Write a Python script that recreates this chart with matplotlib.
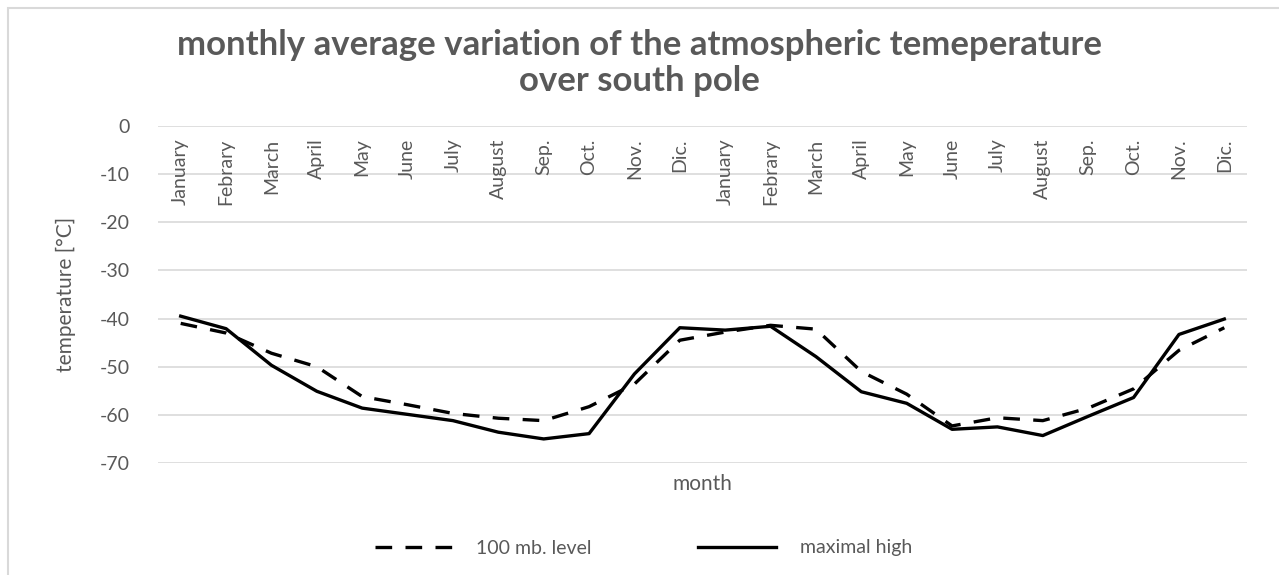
import matplotlib
matplotlib.use("Agg")
import matplotlib.pyplot as plt
from matplotlib.patches import Rectangle

months = ["January", "Febrary", "March", "April", "May", "June", "July",
          "August", "Sep.", "Oct.", "Nov.", "Dic."]
labels = months + months

# 100 mb. level (dashed)
level_100mb = [-41.0, -43.0, -47.2, -50.0, -56.2, -57.9, -59.7, -60.7, -61.2, -58.3, -53.6, -44.5,
               -42.8, -41.4, -42.2, -51.0, -55.7, -62.3, -60.6, -61.2, -58.6, -54.6, -46.6, -41.9]
# maximal high (solid)
maximal_high = [-39.5, -42.1, -49.7, -55.1, -58.6, -59.9, -61.2, -63.6, -65.0, -63.9, -51.5, -41.9,
                -42.4, -41.6, -47.9, -55.2, -57.6, -63.0, -62.5, -64.3, -60.3, -56.4, -43.3, -40.1]

yticks = [0, -10, -20, -30, -40, -50, -60, -70]

plt.rcParams['font.family'] = ['Lato', 'DejaVu Sans']
grey = "#595959"

fig = plt.figure(figsize=(12.79, 5.75), dpi=100)
# outer chart frame
fig.patches.append(Rectangle((8 / 1279, -0.1), 1.2, 1.1 - 8 / 575, transform=fig.transFigure,
                             fill=False, edgecolor="#d9d9d9", linewidth=1.5))

ax = fig.add_axes([158 / 1279, (575 - 463) / 575, 1089 / 1279, 337 / 575])
x = list(range(len(labels)))
ax.plot(x, level_100mb, color="black", linewidth=2.4, linestyle=(0, (5, 4)),
        label="100 mb. level")
ax.plot(x, maximal_high, color="black", linewidth=2.4, label="maximal high")

ax.set_xlim(-0.5, len(labels) - 0.5)
ax.set_ylim(-70, 0)
ax.set_yticks(yticks)
ax.set_yticklabels([str(v) for v in yticks])
ax.grid(axis="y", color="#d9d9d9", linewidth=1.2)
ax.set_axisbelow(True)
for s in ax.spines.values():
    s.set_visible(False)
ax.tick_params(axis="both", length=0, labelsize=14, colors=grey)
ax.tick_params(axis="y", pad=20)
ax.set_xticks([])

# category labels sit just under the zero line
for i, lab in enumerate(labels):
    ax.text(i, -2.6, lab, rotation=90, ha="center", va="top", fontsize=14, color=grey)

ax.set_xlabel("month", fontsize=15, color=grey, labelpad=8)
ax.set_ylabel("temperature [°C]", fontsize=15, color=grey, labelpad=17)

fig.text(0.5, 1 - 45 / 575, "monthly average variation of the atmospheric temeperature",
         ha="center", va="center", fontsize=25, fontweight="bold", color=grey)
fig.text(0.5, 1 - 81 / 575, "over south pole",
         ha="center", va="center", fontsize=25, fontweight="bold", color=grey)

fig.legend(loc="center", bbox_to_anchor=(0.503, 1 - 548 / 575), ncol=2, frameon=False,
           fontsize=14, labelcolor=grey, handlelength=4.0, handletextpad=1.2,
           columnspacing=5.5)

fig.savefig("out.png", dpi=100)
